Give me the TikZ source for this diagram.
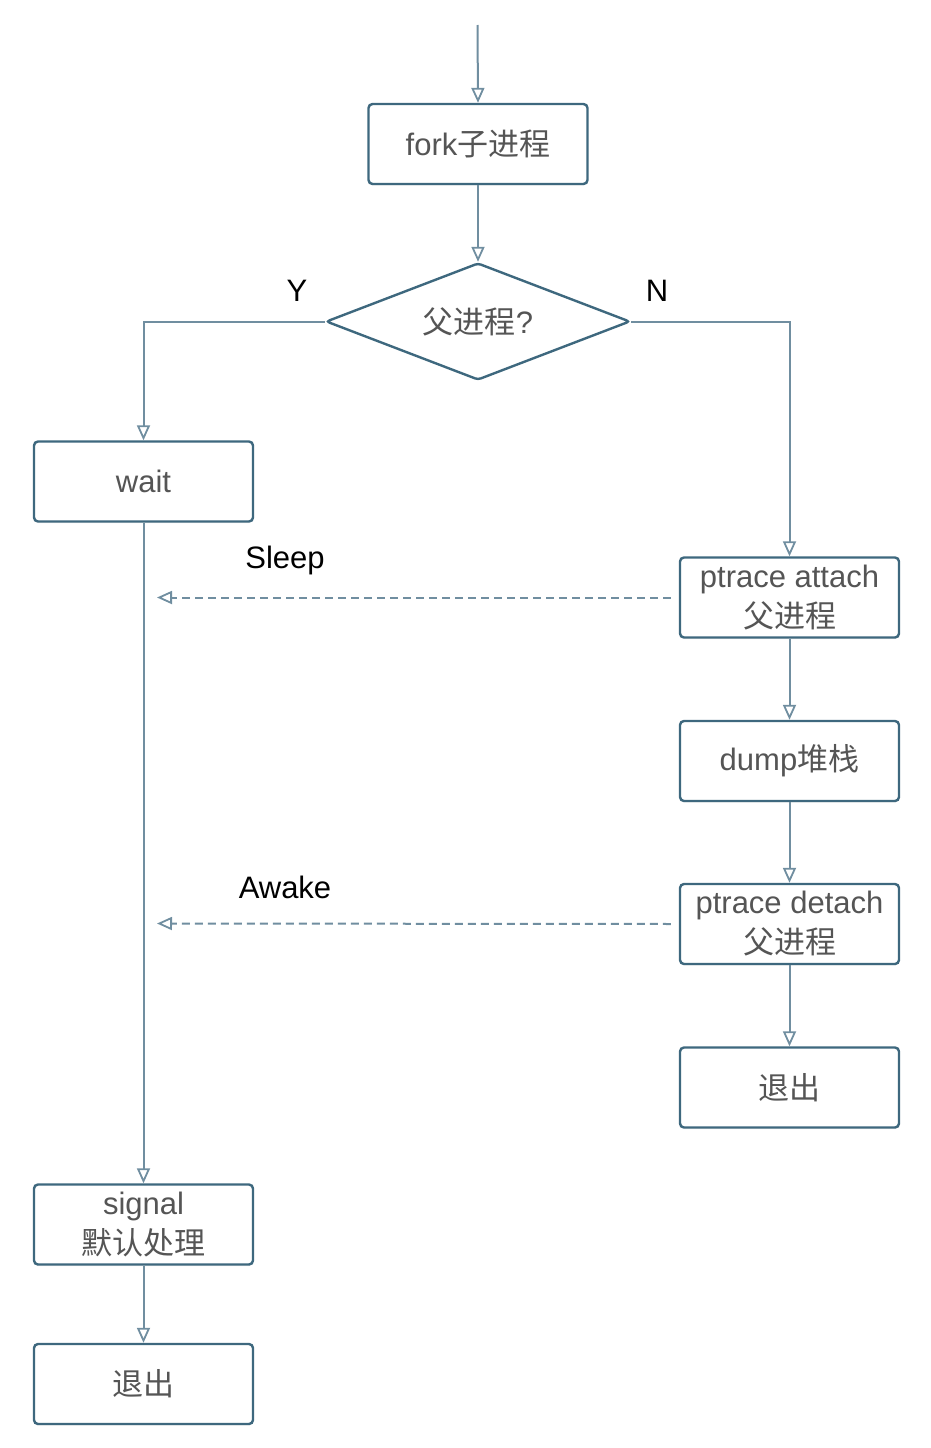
\documentclass[tikz,border=0pt]{standalone}
\usepackage{fontspec}
\setmainfont{Liberation Sans}
\newfontfamily\cjk{Noto Sans CJK SC}
\usetikzlibrary{arrows.meta,shapes.geometric,shadows}
\definecolor{boxc}{RGB}{62,104,126}
\definecolor{conn}{RGB}{112,142,160}
\definecolor{txt}{RGB}{85,85,85}
\begin{document}
\begin{tikzpicture}[x=1pt,y=-1pt,
  stepbox/.style={draw=boxc, line width=2.4pt, rounded corners=4pt, fill=white,
    minimum width=219pt, minimum height=80pt, inner sep=0pt, align=center,
    text=txt, font=\fontsize{31}{40}\selectfont,
    drop shadow={opacity=0.12, shadow xshift=0pt, shadow yshift=-1.5pt}},
  decbox/.style={diamond, draw=boxc, line width=2.4pt, rounded corners=3pt, fill=white,
    minimum width=304pt, minimum height=117pt, inner sep=0pt, aspect=2.6,
    text=txt, font=\fontsize{31}{40}\selectfont},
  flow/.style={draw=conn, line width=2pt, -{Triangle[open, length=15pt, width=13pt, line width=1.8pt]}},
  dflow/.style={flow, dash pattern=on 8pt off 5pt, shorten <=8pt},
  lab/.style={font=\fontsize{31}{40}\selectfont, text=black, inner sep=0pt}
]
\useasboundingbox (0,0) rectangle (930,1448);
\coordinate (start) at (477.5,25);
\node[stepbox] (fork) at (478,144) {fork{\cjk 子进程}};
\node[decbox] (dec) at (478,321.5) {{\cjk 父进程}?};
\node[stepbox] (wait) at (143.5,481.5) {wait};
\node[stepbox] (att) at (789.5,597.5) {ptrace attach\\{\cjk 父进程}};
\node[stepbox] (dump) at (789.5,761) {dump{\cjk 堆栈}};
\node[stepbox] (det) at (789.5,924) {ptrace detach\\{\cjk 父进程}};
\node[stepbox] (exitR) at (789.5,1087.5) {\cjk 退出};
\node[stepbox] (sig) at (143.5,1224.5) {signal\\{\cjk 默认处理}};
\node[stepbox] (exitL) at (143.5,1384) {\cjk 退出};
\coordinate (sleepEnd) at (157,597.5);
\coordinate (awakeEnd) at (157,923.5);
\node[lab] (Y) at (297,291) {Y};
\node[lab] (N) at (657,291) {N};
\node[lab] (sleep) at (285,560) {Sleep};
\node[lab] (awake) at (285,887) {Awake};
\draw[flow] (start) -- (fork.north);
\draw[flow] (fork) -- (dec.north);
\draw[flow] (dec.west) -| (wait.north);
\draw[flow] (dec.east) -| (att.north);
\draw[flow] (wait) -- (sig);
\draw[flow] (sig) -- (exitL);
\draw[flow] (att) -- (dump);
\draw[flow] (dump) -- (det);
\draw[flow] (det) -- (exitR);
\draw[dflow] (att.west) -- (sleepEnd);
\draw[dflow] (det.west) -- (awakeEnd);
\end{tikzpicture}
\end{document}
